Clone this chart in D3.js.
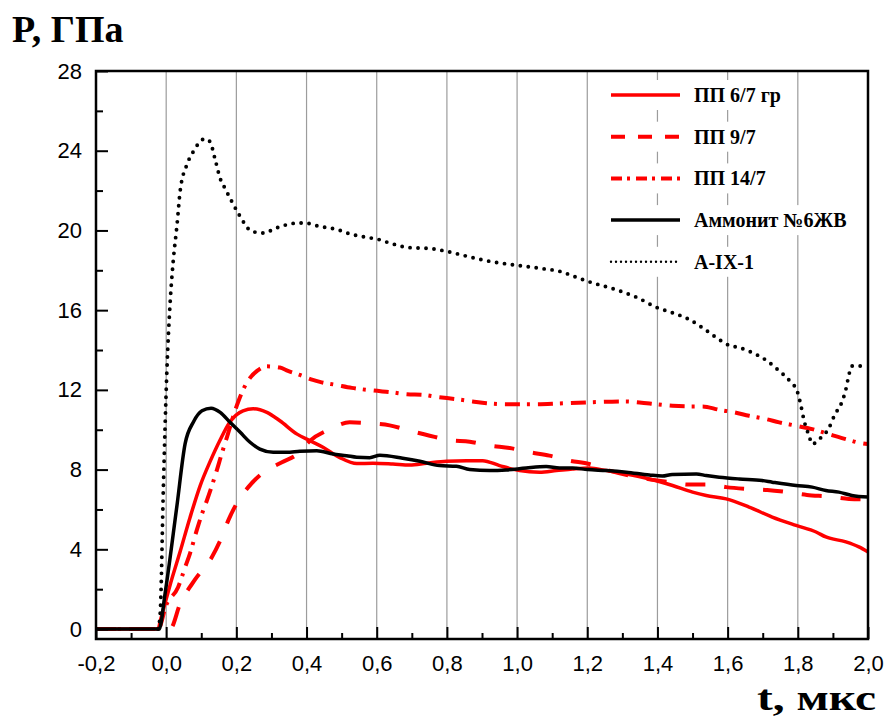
<!DOCTYPE html>
<meta charset="utf-8">
<script src="https://d3js.org/d3.v7.min.js"></script>
<style>
  body { margin: 0; background: #fff; }
</style>
<div id="chart"></div>
<script>
// series names (legend order)
const seriesNames = ["ПП 6/7 гр", "ПП 9/7", "ПП 14/7", "Аммонит №6ЖВ", "A-IX-1"];

// [t, P]
const pp67 = [[-0.2,0],[-0.023,0],[-0.017,0.4],[0,1.5],[0.011,2.2],[0.04,3.9],[0.068,5.6],[0.097,7.2],
  [0.125,8.4],[0.154,9.5],[0.182,10.4],[0.219,10.95],[0.248,11.05],[0.287,10.87],[0.324,10.45],
  [0.373,9.78],[0.41,9.45],[0.447,9.12],[0.495,8.6],[0.543,8.3],[0.589,8.32],[0.646,8.28],[0.694,8.23],
  [0.742,8.32],[0.799,8.42],[0.856,8.45],[0.902,8.45],[0.95,8.2],[1.007,7.95],[1.064,7.87],[1.112,7.95],
  [1.158,8.03],[1.206,8.08],[1.255,7.95],[1.311,7.78],[1.377,7.53],[1.443,7.2],[1.5,6.87],[1.539,6.7],
  [1.596,6.53],[1.661,6.12],[1.727,5.62],[1.795,5.2],[1.852,4.87],[1.88,4.62],[1.937,4.37],[1.974,4.12],[2.0,3.87]];

const pp97 = [[-0.2,0],[0.011,0],[0.04,1.28],[0.083,2.5],[0.13,3.6],[0.158,4.6],[0.177,5.45],[0.206,6.45],
  [0.234,7.12],[0.273,7.8],[0.33,8.37],[0.376,8.8],[0.41,9.45],[0.467,10.03],[0.523,10.37],[0.58,10.32],
  [0.637,10.22],[0.694,9.95],[0.751,9.7],[0.808,9.48],[0.865,9.4],[0.922,9.2],[0.979,9.08],[1.036,8.87],
  [1.092,8.7],[1.149,8.45],[1.206,8.28],[1.263,7.95],[1.349,7.6],[1.434,7.37],[1.49,7.25],[1.548,7.25],
  [1.596,7.12],[1.656,7.03],[1.713,6.98],[1.77,6.87],[1.826,6.73],[1.889,6.65],[1.946,6.53],[2.0,6.5]];

const pp147 = [[-0.2,0],[-0.023,0],[0,1.2],[0.034,2.1],[0.054,3.1],[0.068,3.8],[0.087,4.95],[0.102,5.78],
  [0.116,6.45],[0.144,7.95],[0.158,8.78],[0.173,9.62],[0.201,11.2],[0.219,12.0],[0.239,12.6],[0.259,12.95],
  [0.287,13.18],[0.324,13.12],[0.347,12.95],[0.381,12.75],[0.418,12.5],[0.438,12.4],[0.484,12.25],
  [0.529,12.1],[0.589,11.97],[0.646,11.87],[0.686,11.78],[0.731,11.75],[0.771,11.65],[0.828,11.53],
  [0.873,11.42],[0.913,11.33],[0.97,11.28],[1.055,11.28],[1.121,11.32],[1.198,11.37],[1.311,11.42],
  [1.349,11.37],[1.397,11.28],[1.443,11.2],[1.491,11.17],[1.528,11.17],[1.576,11.0],[1.619,10.87],
  [1.661,10.7],[1.71,10.53],[1.747,10.37],[1.795,10.2],[1.841,10.03],[1.889,9.78],[1.937,9.53],[1.98,9.33],[2.0,9.28]];

const ammonit = [[-0.2,0],[-0.02,0],[-0.003,1.8],[0.03,6.1],[0.054,9.3],[0.078,10.4],[0.102,10.95],
  [0.128,11.08],[0.154,10.87],[0.182,10.37],[0.211,9.87],[0.239,9.37],[0.267,9.03],[0.305,8.87],
  [0.343,8.87],[0.381,8.92],[0.429,8.95],[0.476,8.78],[0.514,8.7],[0.543,8.62],[0.58,8.6],[0.609,8.72],
  [0.674,8.57],[0.723,8.42],[0.779,8.2],[0.827,8.17],[0.865,8.0],[0.922,7.95],[0.969,7.98],[1.026,8.08],
  [1.083,8.15],[1.121,8.08],[1.158,8.08],[1.201,8.0],[1.254,7.95],[1.311,7.87],[1.377,7.73],[1.414,7.68],
  [1.442,7.76],[1.511,7.78],[1.539,7.7],[1.576,7.62],[1.633,7.53],[1.698,7.45],[1.727,7.37],[1.795,7.2],
  [1.841,7.12],[1.88,6.95],[1.917,6.87],[1.954,6.7],[2.0,6.62]];

const aix1 = [[-0.023,0],[-0.017,0.8],[-0.008,7.1],[0.002,12.95],[0.011,16.3],[0.02,18.45],[0.031,20.3],
  [0.04,22.0],[0.059,23.3],[0.077,23.95],[0.111,24.6],[0.125,24.45],[0.139,23.6],[0.154,22.6],[0.168,22.1],
  [0.201,21.0],[0.225,20.3],[0.239,20.0],[0.259,19.9],[0.282,19.87],[0.304,20.05],[0.347,20.3],[0.373,20.37],
  [0.395,20.37],[0.438,20.2],[0.486,20.05],[0.529,19.8],[0.572,19.65],[0.6,19.57],[0.637,19.37],[0.686,19.15],
  [0.757,19.08],[0.799,18.95],[0.865,18.67],[0.913,18.48],[0.999,18.25],[1.073,18.08],[1.121,17.95],
  [1.169,17.65],[1.206,17.42],[1.272,17.08],[1.34,16.65],[1.4,16.12],[1.443,15.87],[1.491,15.53],
  [1.528,15.12],[1.568,14.62],[1.605,14.23],[1.633,14.12],[1.67,13.87],[1.713,13.45],[1.747,12.95],
  [1.781,12.37],[1.798,11.95],[1.809,11.2],[1.818,10.45],[1.832,9.7],[1.841,9.28],[1.861,9.53],[1.889,10.1],
  [1.906,10.78],[1.923,11.28],[1.937,12.03],[1.946,12.78],[1.954,13.2],[1.991,13.2]];

// ticks
const xMajor = [-0.2, 0, 0.2, 0.4, 0.6, 0.8, 1.0, 1.2, 1.4, 1.6, 1.8, 2.0];
const xMinor = [-0.1, 0.1, 0.3, 0.5, 0.7, 0.9, 1.1, 1.3, 1.5, 1.7, 1.9];
const xGrid = [0, 0.2, 0.4, 0.6, 0.8, 1.0, 1.2, 1.4, 1.6, 1.8];
const yMajor = [0, 4, 8, 12, 16, 20, 24, 28];
const yMinor = [2, 6, 10, 14, 18, 22, 26];

const allSeries = [pp67, pp97, pp147, ammonit, aix1];

// line styles per series
const styles = [
  {color: "#ff0000", width: 3.5, dash: null, cap: "butt", legendDash: null, legendWidth: 3.5},
  {color: "#ff0000", width: 4, dash: "20 19", cap: "butt", legendDash: "14 13", legendWidth: 4},
  {color: "#ff0000", width: 4, dash: "15 7 3 8", cap: "butt", legendDash: "11 5 3 6", legendWidth: 4},
  {color: "#000000", width: 3.5, dash: null, cap: "butt", legendDash: null, legendWidth: 3.5},
  {color: "#000000", width: 3.9, dash: "0 8", cap: "round", legendDash: "0 5", legendWidth: 2.4}
];

const width = 887, height = 719;

const svg = d3.select("#chart")
  .append("svg")
    .attr("width", width)
    .attr("height", height);

const x = d3.scaleLinear().domain([-0.2, 2.0]).range([96, 868]);
const y = d3.scaleLinear().domain([-0.5, 28]).range([639, 71]);

const fmt = d => d.toFixed(1).replace(".", ",");

// vertical grid
svg.append("g")
  .selectAll("line")
  .data(xGrid)
  .enter()
  .append("line")
    .attr("x1", d => x(d)).attr("x2", d => x(d))
    .attr("y1", y(28)).attr("y2", y(-0.5))
    .style("stroke", "#9c9c9c")
    .style("stroke-width", 1.2);

// curves
const line = d3.line()
  .x(d => x(d[0]))
  .y(d => y(d[1]))
  .curve(d3.curveMonotoneX);

allSeries.forEach((s, i) => {
  const st = styles[i];
  svg.append("path")
    .datum(s)
    .attr("d", line)
    .style("fill", "none")
    .style("stroke", st.color)
    .style("stroke-width", st.width)
    .style("stroke-dasharray", st.dash)
    .style("stroke-linecap", st.cap)
    .style("stroke-linejoin", "round");
});

// axes
const axisFont = "'Liberation Sans', Arial, sans-serif";

const gx = svg.append("g")
  .attr("transform", "translate(0," + y(-0.5) + ")")
  .call(d3.axisBottom(x).tickValues(xMajor).tickFormat(fmt).tickSize(-12).tickPadding(16));
const gxm = svg.append("g")
  .attr("transform", "translate(0," + y(-0.5) + ")")
  .call(d3.axisBottom(x).tickValues(xMinor).tickFormat("").tickSize(-6));
const gy = svg.append("g")
  .attr("transform", "translate(" + x(-0.2) + ",0)")
  .call(d3.axisLeft(y).tickValues(yMajor).tickSize(-12).tickPadding(14));
const gym = svg.append("g")
  .attr("transform", "translate(" + x(-0.2) + ",0)")
  .call(d3.axisLeft(y).tickValues(yMinor).tickFormat("").tickSize(-7));

[gx, gxm, gy, gym].forEach(g => {
  g.select(".domain").remove();
  g.selectAll(".tick line").style("stroke", "#000").style("stroke-width", 2);
  g.selectAll(".tick text")
    .style("font-family", axisFont)
    .style("font-size", "22px")
    .style("fill", "#000");
});

// frame
svg.append("rect")
  .attr("x", x(-0.2)).attr("y", y(28))
  .attr("width", x(2.0) - x(-0.2))
  .attr("height", y(-0.5) - y(28))
  .style("fill", "none")
  .style("stroke", "#000")
  .style("stroke-width", 2.5);

// legend
const serif = "'Liberation Serif', 'Times New Roman', serif";
const legend = svg.append("g");
seriesNames.forEach((name, i) => {
  const st = styles[i];
  const cy = 95 + i * 41.7;
  const row = legend.append("g");
  const bg = row.append("rect");
  row.append("line")
    .attr("x1", 611).attr("x2", 680)
    .attr("y1", cy).attr("y2", cy)
    .style("stroke", st.color)
    .style("stroke-width", st.legendWidth)
    .style("stroke-dasharray", st.legendDash)
    .style("stroke-linecap", st.cap);
  const txt = row.append("text")
    .attr("x", 694).attr("y", cy + 7)
    .style("font-family", serif)
    .style("font-weight", "bold")
    .style("font-size", "20px")
    .style("fill", "#000")
    .text(name);
  const w = txt.node().getComputedTextLength();
  bg.attr("x", 603).attr("y", cy - 15)
    .attr("width", 694 + w + 5 - 603).attr("height", 30)
    .style("fill", "#fff");
});

// axis titles
svg.append("text")
  .attr("x", 12).attr("y", 42)
  .style("font-family", serif)
  .style("font-weight", "bold")
  .style("font-size", "38px")
  .text("P, ГПа");

svg.append("text")
  .attr("x", 757).attr("y", 710)
  .attr("textLength", 119)
  .attr("lengthAdjust", "spacingAndGlyphs")
  .style("font-family", serif)
  .style("font-weight", "bold")
  .style("font-size", "35px")
  .text("t, мкс");
</script>
